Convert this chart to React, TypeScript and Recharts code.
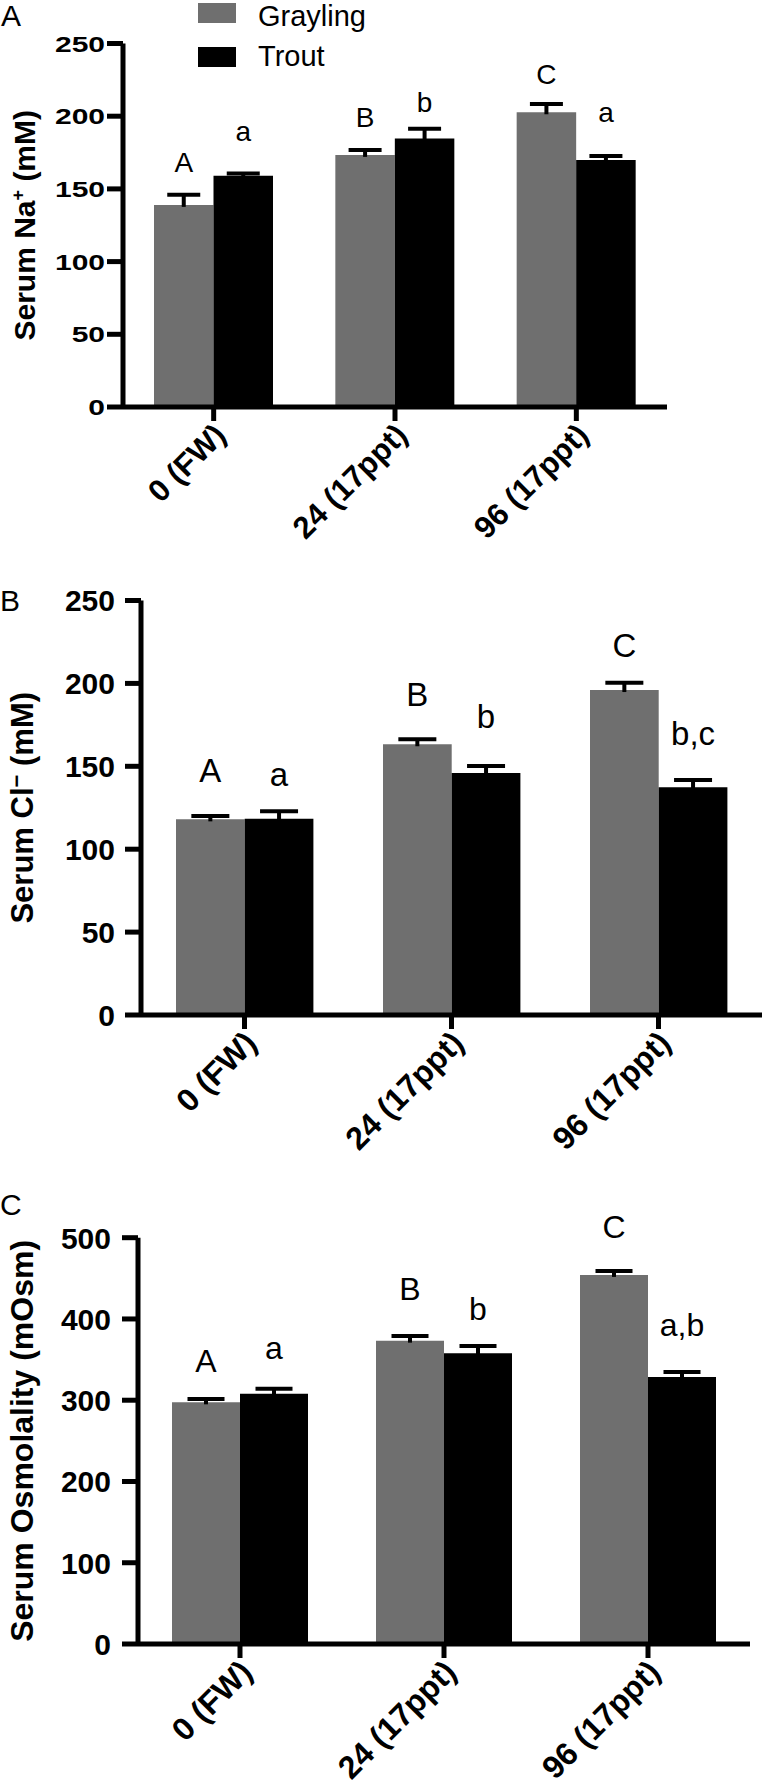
import React from 'react';
import { BarChart, Bar, XAxis, YAxis, LabelList, Legend, Label } from 'recharts';

const FONT = '"Liberation Sans", Arial, Helvetica, sans-serif';
const GRAY = '#6f6f6f';
const W = 764;

const categories = ['0 (FW)', '24 (17ppt)', '96 (17ppt)'];
const seriesNames = ['Grayling', 'Trout'];

// Panel A: Serum Na+
const naGrayling = [139, 173.4, 202.7];
const naGraylingSem = [7, 3.3, 5.7];
const naTrout = [159, 184.7, 169.8];
const naTroutSem = [1.6, 6.7, 2.9];
const naGraylingLetters = ['A', 'B', 'C'];
const naTroutLetters = ['a', 'b', 'a'];
const naTicks = [0, 50, 100, 150, 200, 250];

// Panel B: Serum Cl-
const clGrayling = [118, 163.3, 196];
const clGraylingSem = [2, 3, 4.4];
const clTrout = [118.4, 146, 137.3];
const clTroutSem = [4.5, 4.2, 4.4];
const clGraylingLetters = ['A', 'B', 'C'];
const clTroutLetters = ['a', 'b', 'b,c'];
const clTicks = [0, 50, 100, 150, 200, 250];

// Panel C: Serum osmolality
const osmGrayling = [297.4, 373.3, 454.2];
const osmGraylingSem = [4.1, 5.7, 4.8];
const osmTrout = [308, 357.7, 328.6];
const osmTroutSem = [6, 9.1, 6.2];
const osmGraylingLetters = ['A', 'B', 'C'];
const osmTroutLetters = ['a', 'b', 'a,b'];
const osmTicks = [0, 100, 200, 300, 400, 500];

// label lift above whisker (style)
const naLiftG = [23, 23, 20];
const naLiftT = [32, 17, 34];
const clLiftG = [34, 33, 26];
const clLiftT = [25, 38, 35];
const osmLiftG = [27, 36, 33];
const osmLiftT = [30, 26, 36];

function buildRows(g: number[], t: number[], gl: string[], tl: string[]) {
  return categories.map((c, i) => ({ cat: c, g: g[i], t: t[i], gL: gl[i], tL: tl[i] }));
}

const markContent = (
  values: number[],
  sems: number[],
  lifts: number[],
  capW: number,
  fs: number
) => (props: any) => {
  const idx = props.index;
  const vb = props.viewBox || {};
  const bx = vb.x ?? props.x;
  const by = vb.y ?? props.y;
  const bw = vb.width ?? props.width;
  const bh = vb.height ?? props.height;
  if (idx == null || bx == null) return null;
  const ppu = bh / values[idx];
  const errTop = by - sems[idx] * ppu;
  const cx = bx + bw / 2;
  return (
    <g>
      <line x1={cx} x2={cx} y1={by + 2} y2={errTop} stroke="#000" strokeWidth={4} />
      <line x1={cx - capW / 2} x2={cx + capW / 2} y1={errTop} y2={errTop} stroke="#000" strokeWidth={4} />
      <text x={cx} y={errTop - lifts[idx]} textAnchor="middle" fontFamily={FONT} fontSize={fs} fill="#000">
        {props.value}
      </text>
    </g>
  );
};

const YTick = (sy: number, fs: number) => (props: any) => {
  const { x, y, payload } = props;
  return (
    <text
      transform={`translate(${x} ${y}) scale(1 ${sy})`}
      textAnchor="end"
      dy="0.36em"
      fontFamily={FONT}
      fontWeight="bold"
      fontSize={fs}
      fill="#000"
    >
      {payload.value}
    </text>
  );
};

const XTick = (ox: number, oy: number, fs: number) => (props: any) => {
  const { x, y, payload } = props;
  const ax = x + ox;
  const ay = y + oy;
  return (
    <text
      x={ax}
      y={ay}
      transform={`rotate(-45 ${ax} ${ay})`}
      textAnchor="end"
      fontFamily={FONT}
      fontWeight="bold"
      fontSize={fs}
      fill="#000"
    >
      {payload.value}
    </text>
  );
};

type Panel = {
  top: number;
  height: number;
  mTop: number;
  mRight: number;
  yW: number;
  xH: number;
  ymax: number;
  ticks: number[];
  rows: any[];
  g: number[];
  gs: number[];
  t: number[];
  ts: number[];
  liftG: number[];
  liftT: number[];
  barSize: number;
  capW: number;
  tickSy: number;
  tickMargin: number;
  letterFs: number;
  labelX: number;
  labelFs: number;
  label: React.ReactNode;
  xOff: [number, number];
  xFs: number;
  legend?: boolean;
};

const legendBoxShift = [-3.5, 1];
const legendRowGap = [0, 6.5];

const LegendBox = () => (
  <div style={{ fontFamily: FONT, fontSize: 29, color: '#000' }}>
    {seriesNames.map((n, i) => (
      <div
        key={n}
        style={{ display: 'flex', alignItems: 'center', height: 33, lineHeight: '33px', marginTop: legendRowGap[i] }}
      >
        <span
          style={{
            display: 'inline-block',
            position: 'relative',
            top: legendBoxShift[i],
            width: 38,
            height: 20,
            background: i ? '#000' : GRAY,
            marginRight: 22,
          }}
        />
        <span>{n}</span>
      </div>
    ))}
  </div>
);

function PanelChart(p: Panel) {
  const plotH = p.height - p.mTop - p.xH;
  const cy = p.mTop + plotH / 2;
  return (
    <div style={{ position: 'absolute', left: 0, top: p.top, width: W, height: p.height }}>
      <BarChart
        width={W}
        height={p.height}
        data={p.rows}
        margin={{ top: p.mTop, right: p.mRight, bottom: 0, left: 0 }}
        barGap={0}
      >
        <XAxis
          dataKey="cat"
          height={p.xH}
          interval={0}
          tickSize={14}
          tickMargin={0}
          axisLine={{ stroke: '#000', strokeWidth: 5 }}
          tickLine={{ stroke: '#000', strokeWidth: 5 }}
          tick={XTick(p.xOff[0], p.xOff[1], p.xFs)}
        />
        <YAxis
          width={p.yW}
          domain={[0, p.ymax]}
          ticks={p.ticks}
          type="number"
          interval={0}
          tickSize={16}
          tickMargin={p.tickMargin}
          axisLine={{ stroke: '#000', strokeWidth: 5 }}
          tickLine={{ stroke: '#000', strokeWidth: 5 }}
          tick={YTick(p.tickSy, 30)}
        >
          <Label
            content={() => (
              <text
                transform={`translate(${p.labelX} ${cy}) rotate(-90)`}
                textAnchor="middle"
                fontFamily={FONT}
                fontWeight="bold"
                fontSize={p.labelFs}
                fill="#000"
              >
                {p.label}
              </text>
            )}
          />
        </YAxis>
        {p.legend && (
          <Legend
            layout="vertical"
            align="center"
            verticalAlign="middle"
            wrapperStyle={{ left: 198, top: 0, width: 260, height: 74 }}
            content={() => <LegendBox />}
          />
        )}
        <Bar dataKey="g" name={seriesNames[0]} fill={GRAY} barSize={p.barSize} isAnimationActive={false}>
          <LabelList dataKey="gL" content={markContent(p.g, p.gs, p.liftG, p.capW, p.letterFs)} />
        </Bar>
        <Bar dataKey="t" name={seriesNames[1]} fill="#000" barSize={p.barSize} isAnimationActive={false}>
          <LabelList dataKey="tL" content={markContent(p.t, p.ts, p.liftT, p.capW, p.letterFs)} />
        </Bar>
      </BarChart>
    </div>
  );
}

const panelLetter = (ch: string, top: number, left: number) => (
  <div
    style={{
      position: 'absolute',
      left,
      top,
      fontFamily: FONT,
      fontSize: 30,
      lineHeight: '30px',
      color: '#000',
    }}
  >
    {ch}
  </div>
);

export default function App() {
  return (
    <div style={{ position: 'absolute', left: 0, top: 0, width: W, height: 1789, background: '#fff', overflow: 'hidden' }}>
      <PanelChart
        top={0}
        height={560}
        mTop={43.5}
        mRight={97}
        yW={123}
        xH={153}
        ymax={250}
        ticks={naTicks}
        rows={buildRows(naGrayling, naTrout, naGraylingLetters, naTroutLetters)}
        g={naGrayling}
        gs={naGraylingSem}
        t={naTrout}
        ts={naTroutSem}
        liftG={naLiftG}
        liftT={naLiftT}
        barSize={59.5}
        capW={33}
        tickSy={0.75}
        tickMargin={2}
        letterFs={28}
        labelX={35}
        labelFs={30}
        label={
          <>
            Serum Na<tspan dy={-11} fontSize={18}>+</tspan>
            <tspan dy={11}> (mM)</tspan>
          </>
        }
        xOff={[14, 16]}
        xFs={31}
        legend
      />
      <PanelChart
        top={560}
        height={630}
        mTop={40.5}
        mRight={2}
        yW={141}
        xH={175}
        ymax={250}
        ticks={clTicks}
        rows={buildRows(clGrayling, clTrout, clGraylingLetters, clTroutLetters)}
        g={clGrayling}
        gs={clGraylingSem}
        t={clTrout}
        ts={clTroutSem}
        liftG={clLiftG}
        liftT={clLiftT}
        barSize={68.7}
        capW={38}
        tickSy={1}
        tickMargin={10}
        letterFs={33}
        labelX={33}
        labelFs={31}
        label={
          <>
            Serum Cl<tspan dy={-9} fontSize={22}>−</tspan>
            <tspan dy={9}> (mM)</tspan>
          </>
        }
        xOff={[14, 16]}
        xFs={32}
      />
      <PanelChart
        top={1190}
        height={599}
        mTop={47.7}
        mRight={14}
        yW={138}
        xH={145}
        ymax={500}
        ticks={osmTicks}
        rows={buildRows(osmGrayling, osmTrout, osmGraylingLetters, osmTroutLetters)}
        g={osmGrayling}
        gs={osmGraylingSem}
        t={osmTrout}
        ts={osmTroutSem}
        liftG={osmLiftG}
        liftT={osmLiftT}
        barSize={68}
        capW={37}
        tickSy={1}
        tickMargin={11}
        letterFs={32}
        labelX={33}
        labelFs={32}
        label={<>Serum Osmolality (mOsm)</>}
        xOff={[14, 16]}
        xFs={32}
      />
      {panelLetter('A', 1, 1)}
      {panelLetter('B', 586, 0)}
      {panelLetter('C', 1190, 0)}
    </div>
  );
}
